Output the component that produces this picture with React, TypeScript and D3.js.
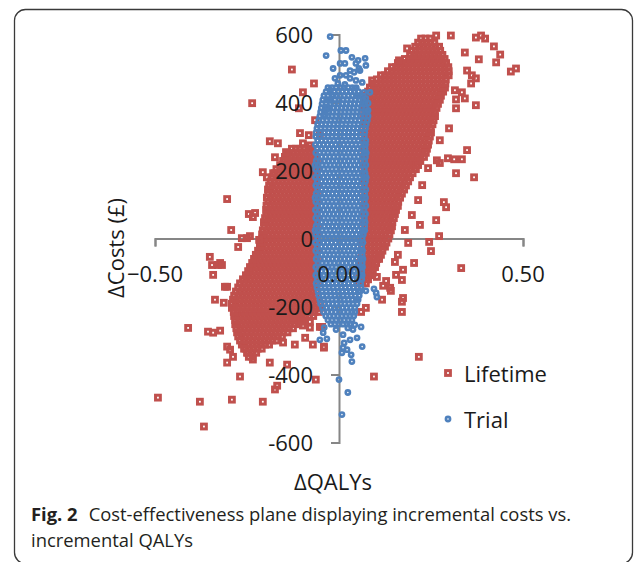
import { useEffect, useRef } from "react";
import * as d3 from "d3";

const xTicks = [-0.5, 0, 0.5];
const yTicks = [-600, -400, -200, 0, 200, 400, 600];
const seriesNames = ["Lifetime", "Trial"];

// dense parts of the clouds, one row per cost level: "ΔCost(£):ΔQALY×1000 ..."
const lifetimeRight = [
  "588:223 235 248",
  "576:215 226 237 248 259",
  "564:207 218 229 240 251 262 272",
  "552:198 209 220 231 242 253 264 275",
  "540:193 204 215 226 237 248 259 270 281",
  "528:179 190 201 212 223 234 245 256 267 278 287",
  "516:160 171 182 193 204 215 226 237 248 259 270 281 291",
  "504:144 155 166 177 188 199 210 221 232 243 254 265 276 287 297",
  "492:133 144 155 166 177 188 199 210 221 232 243 254 265 276 287 298",
  "480:114 125 136 147 158 169 180 191 202 213 224 235 246 257 268 279 290 298",
  "468:103 114 125 136 147 158 169 180 191 202 213 224 235 246 257 268 279 290",
  "456:92 103 114 125 136 147 158 169 180 191 202 213 224 235 246 257 268 279 289",
  "444:84 95 106 117 128 139 150 161 172 183 194 205 216 227 238 249 260 271 282 288",
  "432:79 90 101 112 123 134 145 156 167 178 189 200 211 222 233 244 255 266 277 283",
  "420:73 84 95 106 117 128 139 150 161 172 183 194 205 216 227 238 249 260 271 277",
  "408:68 79 90 101 112 123 134 145 156 167 178 189 200 211 222 233 244 255 266 274",
  "396:73 84 95 106 117 128 139 150 161 172 183 194 205 216 227 238 249 260 269",
  "384:68 79 90 101 112 123 134 145 156 167 178 189 200 211 222 233 244 255 265",
  "372:73 84 95 106 117 128 139 150 161 172 183 194 205 216 227 238 249 260",
  "360:68 79 90 101 112 123 134 145 156 167 178 189 200 211 222 233 244 255 261",
  "348:73 84 95 106 117 128 139 150 161 172 183 194 205 216 227 238 249 257",
  "336:68 79 90 101 112 123 134 145 156 167 178 189 200 211 222 233 244 254",
  "324:73 84 95 106 117 128 139 150 161 172 183 194 205 216 227 238 249",
  "312:68 79 90 101 112 123 134 145 156 167 178 189 200 211 222 233 244 250",
  "300:73 84 95 106 117 128 139 150 161 172 183 194 205 216 227 238 247",
  "288:68 79 90 101 112 123 134 145 156 167 178 189 200 211 222 233 244",
  "276:73 84 95 106 117 128 139 150 161 172 183 194 205 216 227 238 242",
  "264:68 79 90 101 112 123 134 145 156 167 178 189 200 211 222 233 239",
  "252:73 84 95 106 117 128 139 150 161 172 183 194 205 216 227 236",
  "240:68 79 90 101 112 123 134 145 156 167 178 189 200 211 222 231",
  "228:73 84 95 106 117 128 139 150 161 172 183 194 205 216 221",
  "216:68 79 90 101 112 123 134 145 156 167 178 189 200 211 215",
  "204:73 84 95 106 117 128 139 150 161 172 183 194 205 209",
  "192:68 79 90 101 112 123 134 145 156 167 178 189 200",
  "180:73 84 95 106 117 128 139 150 161 172 183 193",
  "168:68 79 90 101 112 123 134 145 156 167 178 188",
  "156:73 84 95 106 117 128 139 150 161 172 182",
  "144:68 79 90 101 112 123 134 145 156 167 177",
  "132:73 84 95 106 117 128 139 150 161 171",
  "120:68 79 90 101 112 123 134 145 156 166",
  "108:73 84 95 106 117 128 139 150 161",
  "96:68 79 90 101 112 123 134 145 156 160",
  "84:73 84 95 106 117 128 139 150 155",
  "72:68 79 90 101 112 123 134 145 152",
  "60:73 84 95 106 117 128 139 149",
  "48:68 79 90 101 112 123 134 145",
  "36:73 84 95 106 117 128 139 144",
  "24:68 79 90 101 112 123 134 141",
  "12:71 82 93 104 115 126 137",
  "0:68 79 90 101 112 123 134",
  "-12:63 74 85 96 107 118 129",
  "-24:63 74 85 96 107 118 125",
  "-36:63 74 85 96 107 118",
  "-48:63 74 85 96 107 114",
  "-60:60 71 82 93 104 109",
  "-72:57 68 79 90 101",
  "-84:57 68 79 90 98",
  "-96:57 68 79 90",
  "-108:57 68 79 84",
  "-120:52 63 74 79",
  "-132:52 63 73",
];

const lifetimeLeft = [
  "264:-73 -84 -95 -106 -117 -128",
  "252:-68 -79 -90 -101 -112 -123 -134 -141",
  "240:-63 -74 -85 -96 -107 -118 -129 -140 -147",
  "228:-60 -71 -82 -93 -104 -115 -126 -137 -148 -152",
  "216:-65 -76 -87 -98 -109 -120 -131 -142 -153 -160",
  "204:-60 -71 -82 -93 -104 -115 -126 -137 -148 -159 -170",
  "192:-65 -76 -87 -98 -109 -120 -131 -142 -153 -164 -175 -179",
  "180:-60 -71 -82 -93 -104 -115 -126 -137 -148 -159 -170 -181",
  "168:-65 -76 -87 -98 -109 -120 -131 -142 -153 -164 -175 -186",
  "156:-60 -71 -82 -93 -104 -115 -126 -137 -148 -159 -170 -181 -190",
  "144:-65 -76 -87 -98 -109 -120 -131 -142 -153 -164 -175 -186 -193",
  "132:-60 -71 -82 -93 -104 -115 -126 -137 -148 -159 -170 -181 -192",
  "120:-65 -76 -87 -98 -109 -120 -131 -142 -153 -164 -175 -186 -196",
  "108:-60 -71 -82 -93 -104 -115 -126 -137 -148 -159 -170 -181 -192",
  "96:-65 -76 -87 -98 -109 -120 -131 -142 -153 -164 -175 -186 -197",
  "84:-60 -71 -82 -93 -104 -115 -126 -137 -148 -159 -170 -181 -192 -198",
  "72:-65 -76 -87 -98 -109 -120 -131 -142 -153 -164 -175 -186 -197",
  "60:-60 -71 -82 -93 -104 -115 -126 -137 -148 -159 -170 -181 -192 -201",
  "48:-65 -76 -87 -98 -109 -120 -131 -142 -153 -164 -175 -186 -197 -204",
  "36:-60 -71 -82 -93 -104 -115 -126 -137 -148 -159 -170 -181 -192 -203",
  "24:-65 -76 -87 -98 -109 -120 -131 -142 -153 -164 -175 -186 -197 -207",
  "12:-60 -71 -82 -93 -104 -115 -126 -137 -148 -159 -170 -181 -192 -203 -209",
  "0:-65 -76 -87 -98 -109 -120 -131 -142 -153 -164 -175 -186 -197 -208",
  "-12:-60 -71 -82 -93 -104 -115 -126 -137 -148 -159 -170 -181 -192 -203 -212",
  "-24:-65 -76 -87 -98 -109 -120 -131 -142 -153 -164 -175 -186 -197 -208 -215",
  "-36:-60 -71 -82 -93 -104 -115 -126 -137 -148 -159 -170 -181 -192 -203 -214 -220",
  "-48:-65 -76 -87 -98 -109 -120 -131 -142 -153 -164 -175 -186 -197 -208 -219 -226",
  "-60:-60 -71 -82 -93 -104 -115 -126 -137 -148 -159 -170 -181 -192 -203 -214 -225 -231",
  "-72:-65 -76 -87 -98 -109 -120 -131 -142 -153 -164 -175 -186 -197 -208 -219 -230 -236",
  "-84:-60 -71 -82 -93 -104 -115 -126 -137 -148 -159 -170 -181 -192 -203 -214 -225 -236 -242",
  "-96:-65 -76 -87 -98 -109 -120 -131 -142 -153 -164 -175 -186 -197 -208 -219 -230 -241 -247",
  "-108:-60 -71 -82 -93 -104 -115 -126 -137 -148 -159 -170 -181 -192 -203 -214 -225 -236 -247 -253",
  "-120:-65 -76 -87 -98 -109 -120 -131 -142 -153 -164 -175 -186 -197 -208 -219 -230 -241 -252 -261",
  "-132:-60 -71 -82 -93 -104 -115 -126 -137 -148 -159 -170 -181 -192 -203 -214 -225 -236 -247 -258 -269",
  "-144:-65 -76 -87 -98 -109 -120 -131 -142 -153 -164 -175 -186 -197 -208 -219 -230 -241 -252 -263 -274",
  "-156:-60 -71 -82 -93 -104 -115 -126 -137 -148 -159 -170 -181 -192 -203 -214 -225 -236 -247 -258 -269 -280",
  "-168:-65 -76 -87 -98 -109 -120 -131 -142 -153 -164 -175 -186 -197 -208 -219 -230 -241 -252 -263 -274 -285",
  "-180:-60 -71 -82 -93 -104 -115 -126 -137 -148 -159 -170 -181 -192 -203 -214 -225 -236 -247 -258 -269 -280 -288",
  "-192:-50 -61 -72 -83 -94 -105 -116 -127 -138 -149 -160 -171 -182 -193 -204 -215 -226 -237 -248 -259 -270 -281 -291",
  "-204:-52 -63 -74 -85 -96 -107 -118 -129 -140 -151 -162 -173 -184 -195 -206 -217 -228 -239 -250 -261 -272 -283 -291",
  "-216:-55 -66 -77 -88 -99 -110 -121 -132 -143 -154 -165 -176 -187 -198 -209 -220 -231 -242 -253 -264 -275 -286",
  "-228:-70 -81 -92 -103 -114 -125 -136 -147 -158 -169 -180 -191 -202 -213 -224 -235 -246 -257 -268 -279 -285",
  "-240:-95 -106 -117 -128 -139 -150 -161 -172 -183 -194 -205 -216 -227 -238 -249 -260 -271 -282",
  "-252:-110 -121 -132 -143 -154 -165 -176 -187 -198 -209 -220 -231 -242 -253 -264 -275 -282",
  "-264:-125 -136 -147 -158 -169 -180 -191 -202 -213 -224 -235 -246 -257 -268 -279",
  "-276:-140 -151 -162 -173 -184 -195 -206 -217 -228 -239 -250 -261 -272 -277",
  "-288:-155 -166 -177 -188 -199 -210 -221 -232 -243 -254 -265 -274",
  "-300:-170 -181 -192 -203 -214 -225 -236 -247 -258 -269",
  "-312:-190 -201 -212 -223 -234 -245 -256 -264",
  "-324:-210 -221 -232 -243 -254 -258",
  "-336:-225 -236 -247 -250",
  "-348:-235 -245",
];

// scattered Lifetime points [ΔQALY, ΔCost]
const lifetimeOutliers: [number, number][] = [
  [-0.128, 497], [-0.068, 456], [-0.098, 430], [-0.236, 398], [-0.109, 383], [-0.065, 348],
  [-0.106, 310], [-0.082, 304], [-0.052, 304], [-0.188, 286], [-0.166, 280], [-0.098, 280],
  [-0.079, 274], [-0.174, 239], [-0.144, 254], [-0.207, 195], [-0.196, 180], [-0.304, 116],
  [-0.234, 63], [-0.228, 75], [-0.245, 72], [-0.293, 25], [-0.274, -25], [-0.217, -4],
  [-0.264, 1], [-0.25, 1], [-0.242, 7], [-0.351, -54], [-0.323, -72], [-0.342, -107],
  [-0.345, -78], [-0.329, -78], [-0.318, -78], [-0.31, -142], [-0.304, -142], [-0.337, -180],
  [-0.313, -189], [-0.41, -263], [-0.356, -274], [-0.342, -277], [-0.323, -271],
  [-0.304, -318], [-0.296, -327], [-0.288, -348], [-0.304, -365], [-0.269, -406],
  [-0.234, -356], [-0.188, -365], [-0.174, -444], [-0.168, -433], [-0.141, -371],
  [-0.071, -312], [-0.063, -415], [-0.492, -468], [-0.378, -480], [-0.291, -474],
  [-0.207, -480], [-0.367, -553], [-0.046, -260], [-0.041, -321], [-0.098, -256],
  [-0.092, -292], [-0.12, -312], [-0.079, -245], [-0.125, -233], [-0.101, -245],
  [-0.079, -262], [-0.152, -306], [-0.041, -318], [-0.052, -260],
  [0.264, 597], [0.304, 597], [0.372, 591], [0.386, 597], [0.397, 588], [0.421, 565],
  [0.438, 541], [0.427, 518], [0.467, 491], [0.481, 500], [0.38, 527], [0.348, 494],
  [0.361, 480], [0.372, 471], [0.359, 456], [0.334, 430], [0.342, 412], [0.318, 409],
  [0.372, 392], [0.299, 324], [0.318, 383], [0.348, 260], [0.334, 233], [0.313, 233],
  [0.296, 236], [0.318, 192], [0.367, 180], [0.285, 107], [0.291, 92], [0.264, 54],
  [0.272, 7], [0.245, -10], [0.25, -37], [0.204, -72], [0.332, -87], [0.185, 559],
  [0.163, 524], [0.09, 465], [0.095, 436], [0.188, -13], [0.174, -92], [0.171, -122],
  [0.155, -107], [0.12, -139], [0.139, -145], [0.174, -175], [0.103, -113], [0.092, -101],
  [0.128, -125], [0.141, -154], [0.117, -180], [0.171, -186], [0.171, -216], [0.073, -204],
  [0.06, -216], [0.217, -348], [0.095, -406], [0.274, 289], [0.266, 230], [0.242, 207],
  [0.226, 157], [0.215, 113], [0.198, 69], [0.22, 40], [0.179, 25], [0.16, -48],
  [0.152, -69], [0.315, 436], [0.274, 222], [0.342, 547],
];

const trialCore = [
  "444:-30 -19 -8 3 14 25 36 47",
  "432:-35 -24 -13 -2 9 20 31 42 53",
  "420:-41 -30 -19 -8 3 14 25 36 47 58",
  "408:-44 -33 -22 -11 0 11 22 33 44 55 66",
  "396:-46 -35 -24 -13 -2 9 20 31 42 53 64 71",
  "384:-48 -37 -26 -15 -4 7 18 29 40 51 62 73",
  "372:-50 -39 -28 -17 -6 5 16 27 38 49 60 71 76",
  "360:-52 -41 -30 -19 -8 3 14 25 36 47 58 69 79",
  "348:-55 -44 -33 -22 -11 0 11 22 33 44 55 66 77",
  "336:-58 -47 -36 -25 -14 -3 8 19 30 41 52 63 74",
  "324:-60 -49 -38 -27 -16 -5 6 17 28 39 50 61 72",
  "312:-62 -51 -40 -29 -18 -7 4 15 26 37 48 59 70",
  "300:-63 -52 -41 -30 -19 -8 3 14 25 36 47 58 69",
  "288:-58 -47 -36 -25 -14 -3 8 19 30 41 52 63 73",
  "276:-64 -53 -42 -31 -20 -9 2 13 24 35 46 57 68 72",
  "264:-59 -48 -37 -26 -15 -4 7 18 29 40 51 62 71",
  "252:-63 -52 -41 -30 -19 -8 3 14 25 36 47 58 69 74",
  "240:-58 -47 -36 -25 -14 -3 8 19 30 41 52 63 72",
  "228:-62 -51 -40 -29 -18 -7 4 15 26 37 48 59 70",
  "216:-65 -57 -46 -35 -24 -13 -2 9 20 31 42 53 64 73",
  "204:-63 -52 -41 -30 -19 -8 3 14 25 36 47 58 69",
  "192:-58 -47 -36 -25 -14 -3 8 19 30 41 52 63 71",
  "180:-64 -53 -42 -31 -20 -9 2 13 24 35 46 57 68 74",
  "168:-59 -48 -37 -26 -15 -4 7 18 29 40 51 62 72",
  "156:-63 -52 -41 -30 -19 -8 3 14 25 36 47 58 69",
  "144:-58 -47 -36 -25 -14 -3 8 19 30 41 52 63 73",
  "132:-62 -51 -40 -29 -18 -7 4 15 26 37 48 59 70",
  "120:-65 -57 -46 -35 -24 -13 -2 9 20 31 42 53 64 72",
  "108:-63 -52 -41 -30 -19 -8 3 14 25 36 47 58 69",
  "96:-58 -47 -36 -25 -14 -3 8 19 30 41 52 63 73",
  "84:-64 -53 -42 -31 -20 -9 2 13 24 35 46 57 68",
  "72:-59 -48 -37 -26 -15 -4 7 18 29 40 51 62 72",
  "60:-63 -52 -41 -30 -19 -8 3 14 25 36 47 58 69",
  "48:-58 -47 -36 -25 -14 -3 8 19 30 41 52 63 71",
  "36:-62 -51 -40 -29 -18 -7 4 15 26 37 48 59 70",
  "24:-65 -57 -46 -35 -24 -13 -2 9 20 31 42 53 64 70",
  "12:-63 -52 -41 -30 -19 -8 3 14 25 36 47 58 66",
  "0:-58 -47 -36 -25 -14 -3 8 19 30 41 52 63",
  "-12:-64 -53 -42 -31 -20 -9 2 13 24 35 46 57 65",
  "-24:-59 -48 -37 -26 -15 -4 7 18 29 40 51 62",
  "-36:-63 -52 -41 -30 -19 -8 3 14 25 36 47 58 64",
  "-48:-58 -47 -36 -25 -14 -3 8 19 30 41 52 63",
  "-60:-62 -51 -40 -29 -18 -7 4 15 26 37 48 59 65",
  "-72:-57 -46 -35 -24 -13 -2 9 20 31 42 53 63",
  "-84:-63 -52 -41 -30 -19 -8 3 14 25 36 47 58 64",
  "-96:-58 -47 -36 -25 -14 -3 8 19 30 41 52 62",
  "-108:-63 -52 -41 -30 -19 -8 3 14 25 36 47 58 63",
  "-120:-59 -48 -37 -26 -15 -4 7 18 29 40 51 62",
  "-132:-62 -51 -40 -29 -18 -7 4 15 26 37 48 59",
  "-144:-60 -49 -38 -27 -16 -5 6 17 28 39 50 60",
  "-156:-57 -46 -35 -24 -13 -2 9 20 31 42 53 57",
  "-168:-55 -44 -33 -22 -11 0 11 22 33 44 55",
  "-180:-52 -41 -30 -19 -8 3 14 25 36 47 52",
  "-192:-50 -39 -28 -17 -6 5 16 27 38 49",
  "-204:-45 -34 -23 -12 -1 10 21 32 43",
  "-216:-42 -31 -20 -9 2 13 24 35 43",
  "-228:-36 -25 -14 -3 8 19 30 40",
  "-240:-30 -19 -8 3 14 25 35",
  "-252:-22 -11 0 11 22 30",
];

const trialOutliers: [number, number][] = [
  [-0.024, 594], [0.005, 553], [0.019, 553], [-0.035, 538], [0.035, 533], [0.052, 524],
  [0.071, 530], [0.073, 509], [0.016, 515], [-0.016, 500], [0.03, 494], [0.057, 494],
  [0.046, 515], [0.003, 515], [0.041, 489], [0.054, 500], [0.019, 480], [-0.003, 456],
  [0.016, 453], [0.043, 442], [-0.024, 436], [0.068, 430], [0.084, 430], [-0.033, 386],
  [-0.035, 377], [0.079, 377], [-0.011, 471], [0.003, 480], [0.03, 471], [0.046, 465],
  [0.063, 459], [-0.016, 421], [0.052, 418], [0.073, 412], [0.079, 398], [-0.027, 406],
  [-0.038, 362],
  [0.073, -154], [0.095, -148], [0.101, -160], [0.103, -172], [-0.043, -277], [-0.052, -298],
  [-0.033, -295], [-0.008, -268], [0.011, -283], [0.014, -307], [0.022, -327], [0.03, -298],
  [0.038, -268], [0.024, -263], [0.033, -342], [0.035, -362], [0.063, -318], [0.011, -321],
  [0.008, -336], [0, -415], [0.024, -453], [0.008, -518], [0.049, -292], [0.043, -254],
  [0.06, -260], [-0.04, -262],
];

function unpack(rows: string[]) {
  return rows.flatMap(r => {
    const [c, xs] = r.split(":");
    return xs.trim().split(/\s+/).map(v => ({ q: +v / 1000, c: +c }));
  });
}

const RED = "#c0504d";
const BLUE = "#4f81bd";
const FONT = "'Open Sans', 'Noto Sans', sans-serif";
const SQ = 4.8; // square marker side (stroke centre)
const SQ_W = 3.0;
const CR = 2.1; // circle marker radius
const CR_W = 2.6;

export default function App() {
  const svgRef = useRef<SVGSVGElement>(null);

  useEffect(() => {
    if (!svgRef.current) return;
    const svg = d3.select(svgRef.current);
    svg.selectAll("*").remove();

    const x = d3.scaleLinear().domain([-0.5, 0.5]).range([155, 523]);
    const y = d3.scaleLinear().domain([-600, 600]).range([442.5, 34.5]);

    // figure frame
    svg.append("rect")
      .attr("x", 14.5).attr("y", 9.5)
      .attr("width", 618).attr("height", 554)
      .attr("rx", 11)
      .attr("fill", "#fff")
      .attr("stroke", "#3a3a3a")
      .attr("stroke-width", 1.3);

    // axes cross at the origin
    const gx = svg.append("g")
      .attr("transform", `translate(0,${y(0)})`)
      .call(d3.axisBottom(x).tickValues(xTicks).tickSize(8).tickSizeOuter(8).tickFormat(() => ""));
    const gy = svg.append("g")
      .attr("transform", `translate(${x(0)},0)`)
      .call(d3.axisLeft(y).tickValues(yTicks).tickSize(8).tickSizeOuter(8).tickFormat(() => ""));
    [gx, gy].forEach(g => {
      g.selectAll("path, line").attr("stroke", "#868686").attr("stroke-width", 2);
    });

    const lifetime = [
      ...unpack(lifetimeRight),
      ...unpack(lifetimeLeft),
      ...lifetimeOutliers.map(([q, c]) => ({ q, c })),
    ];
    const trial = [...unpack(trialCore), ...trialOutliers.map(([q, c]) => ({ q, c }))];

    svg.append("g").selectAll("rect")
      .data(lifetime)
      .enter()
      .append("rect")
      .attr("x", d => x(d.q) - SQ / 2)
      .attr("y", d => y(d.c) - SQ / 2)
      .attr("width", SQ)
      .attr("height", SQ)
      .attr("fill", "none")
      .attr("stroke", RED)
      .attr("stroke-width", SQ_W);

    svg.append("g").selectAll("circle")
      .data(trial)
      .enter()
      .append("circle")
      .attr("cx", d => x(d.q))
      .attr("cy", d => y(d.c))
      .attr("r", CR)
      .attr("fill", "none")
      .attr("stroke", BLUE)
      .attr("stroke-width", CR_W);

    // tick labels sit on top of the markers
    svg.append("g").selectAll("text")
      .data(xTicks)
      .enter()
      .append("text")
      .attr("x", d => x(d))
      .attr("y", 282)
      .attr("text-anchor", "middle")
      .attr("font-family", FONT)
      .attr("font-size", 22)
      .attr("fill", "#1a1a1a")
      .text(d => d3.format(".2f")(d));

    svg.append("g").selectAll("text")
      .data(yTicks)
      .enter()
      .append("text")
      .attr("x", 313)
      .attr("y", d => y(d) + 8)
      .attr("text-anchor", "end")
      .attr("font-family", FONT)
      .attr("font-size", 22)
      .attr("fill", "#1a1a1a")
      .text(d => d);

    // axis titles
    svg.append("text")
      .attr("x", 333).attr("y", 490)
      .attr("text-anchor", "middle")
      .attr("font-family", FONT)
      .attr("font-size", 22)
      .attr("fill", "#1a1a1a")
      .text("ΔQALYs");
    svg.append("text")
      .attr("transform", "translate(124,248) rotate(-90)")
      .attr("text-anchor", "middle")
      .attr("font-family", FONT)
      .attr("font-size", 22)
      .attr("fill", "#1a1a1a")
      .text("ΔCosts (£)");

    // legend
    const legend = svg.append("g");
    seriesNames.forEach((name, i) => {
      const cy = i === 0 ? 373 : 419;
      if (i === 0) {
        legend.append("rect")
          .attr("x", 448 - SQ / 2).attr("y", cy - SQ / 2)
          .attr("width", SQ).attr("height", SQ)
          .attr("fill", "none").attr("stroke", RED).attr("stroke-width", SQ_W);
      } else {
        legend.append("circle")
          .attr("cx", 448).attr("cy", cy).attr("r", CR)
          .attr("fill", "none").attr("stroke", BLUE).attr("stroke-width", CR_W);
      }
      legend.append("text")
        .attr("x", 464).attr("y", cy + 9)
        .attr("font-family", FONT)
        .attr("font-size", 22)
        .attr("fill", "#1a1a1a")
        .text(name);
    });

    // caption
    const cap = svg.append("text")
      .attr("x", 31).attr("y", 521)
      .attr("font-family", FONT)
      .attr("font-size", 18.4)
      .attr("fill", "#231f20");
    cap.append("tspan").attr("font-weight", "bold").text("Fig. 2");
    cap.append("tspan").attr("dx", 11).text("Cost-effectiveness plane displaying incremental costs vs.");
    svg.append("text")
      .attr("x", 31).attr("y", 547)
      .attr("font-family", FONT)
      .attr("font-size", 18.4)
      .attr("fill", "#231f20")
      .text("incremental QALYs");
  }, []);

  return (
    <svg
      ref={svgRef}
      width={634}
      height={562}
      style={{ position: "absolute", left: 0, top: 0 }}
    />
  );
}
